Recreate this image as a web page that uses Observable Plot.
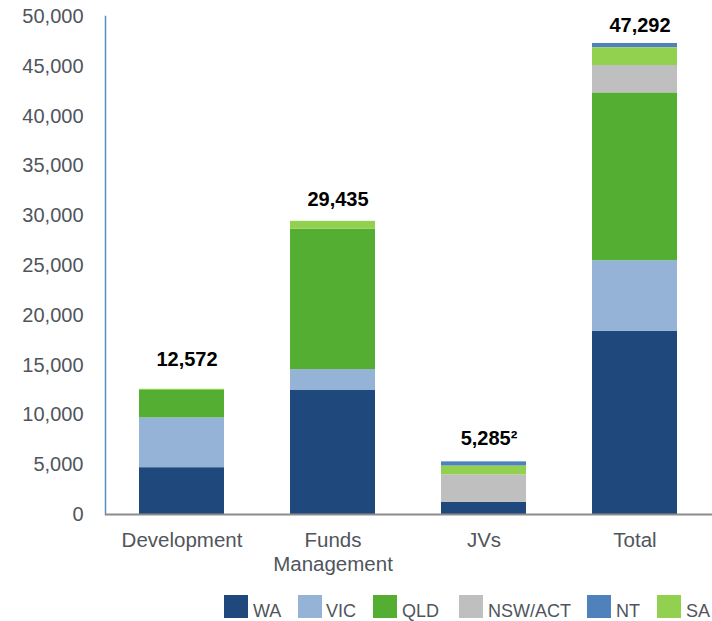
<!DOCTYPE html>
<html>
<head>
<meta charset="utf-8">
<script src="https://cdn.jsdelivr.net/npm/d3@7"></script>
<script src="https://cdn.jsdelivr.net/npm/@observablehq/plot@0.6"></script>
<style>
  html, body { margin: 0; padding: 0; background: #fff; }
  body { width: 712px; height: 621px; overflow: hidden; font-family: "Liberation Sans", Arial, sans-serif; position: relative; }
  #legend { position: absolute; left: 0; top: 583px; }
</style>
</head>
<body>
<div id="chart"></div>
<div id="legend"></div>
<script>
const categories = ["Development", "Funds Management", "JVs", "Total"];
const regions = ["WA", "VIC", "QLD", "NSW/ACT", "NT", "SA"];
const stackOrder = ["WA", "VIC", "QLD", "NSW/ACT", "SA", "NT"];
const colors = ["#1f497d", "#95b3d7", "#53ae32", "#bfbfbf", "#4f81bd", "#92d050"];
const WA = [4700, 12450, 1230, 18380];
const VIC = [5000, 2100, 0, 7100];
const QLD = [2750, 14100, 0, 16850];
const NSW_ACT = [0, 0, 2750, 2750];
const NT = [0, 0, 435, 435];
const SA = [122, 785, 870, 1777];
const totals = [12572, 29435, 5285, 47292];
const totalLabels = ["12,572", "29,435", "5,285\u00B2", "47,292"];
const yTicks = [0, 5000, 10000, 15000, 20000, 25000, 30000, 35000, 40000, 45000, 50000];
const xTickLabels = ["Development", "Funds\nManagement", "JVs", "Total"];

const seriesValues = {"WA": WA, "VIC": VIC, "QLD": QLD, "NSW/ACT": NSW_ACT, "NT": NT, "SA": SA};
const rows = [];
for (const r of regions) categories.forEach((c, i) => rows.push({category: c, region: r, value: seriesValues[r][i]}));
const totalRows = categories.map((c, i) => ({category: c, total: totals[i], label: totalLabels[i]}));

// label offsets above each bar (styling only)
const labelDy = [-30, -22, -23, -18];
const labelMarks = categories.map((c, i) =>
  Plot.text(totalRows.filter(d => d.category === c), {x: "category", y: "total", text: "label",
    dy: labelDy[i], dx: 5, fontSize: 20, fontWeight: "bold", fill: "#000"}));

const chart = Plot.plot({
  width: 712,
  height: 583,
  marginLeft: 105,
  marginRight: 0,
  marginTop: 16,
  marginBottom: 69,
  style: {fontFamily: "'Liberation Sans', Arial, sans-serif", background: "#fff"},
  x: {domain: categories, paddingInner: 0.434, paddingOuter: 0.217, label: null},
  y: {domain: [0, 50000], label: null},
  color: {domain: regions, range: colors},
  marks: [
    Plot.barY(rows, Plot.stackY({order: stackOrder}, {x: "category", y: "value", fill: "region"})),
    Plot.axisY({ticks: yTicks, tickSize: 0, tickPadding: 22, fontSize: 20, fill: "#50555c",
      tickFormat: d => d3.format(",")(d), label: null}),
    Plot.axisX({tickSize: 0, tickPadding: 16, fontSize: 20.5, fill: "#50555c",
      tickFormat: d => xTickLabels[categories.indexOf(d)], label: null, lineHeight: 1.15}),
    Plot.frame({anchor: "left", stroke: "#5b8ac6", strokeWidth: 1.5}),
    Plot.ruleY([0], {stroke: "#8c8c8c", strokeWidth: 2}),
    ...labelMarks
  ]
});
document.getElementById("chart").appendChild(chart);

// legend
const legendX = [224, 298, 373, 459, 587, 657];
const legendTextX = [253, 326, 402, 488, 616, 686];
const lsvg = d3.select("#legend").append("svg").attr("width", 712).attr("height", 38);
regions.forEach((r, i) => {
  lsvg.append("rect").attr("x", legendX[i]).attr("y", 12).attr("width", 24).attr("height", 23).attr("fill", colors[i]);
  lsvg.append("text").attr("x", legendTextX[i]).attr("y", 34).attr("font-size", 18)
    .attr("font-family", "'Liberation Sans', Arial, sans-serif").attr("fill", "#50555c").text(r);
});
</script>
</body>
</html>
